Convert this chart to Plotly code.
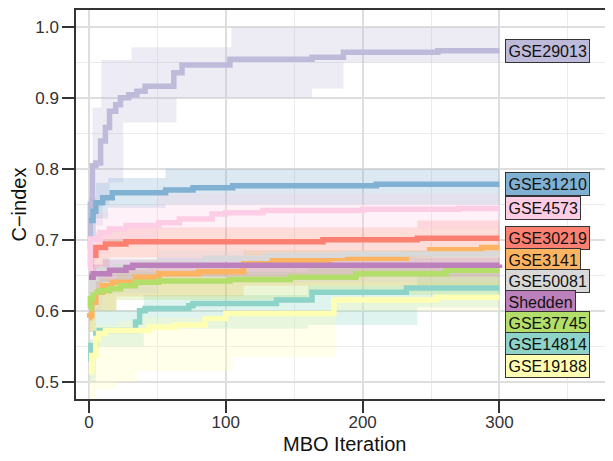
import plotly.graph_objects as go

# ---------------- data ----------------
names = ["GSE14814", "GSE19188", "GSE29013", "GSE30219", "GSE31210",
         "GSE3141", "GSE37745", "GSE4573", "GSE50081", "Shedden"]
colors = ["#8DD3C7", "#FFFFB3", "#BEBADA", "#FB8072", "#80B1D3",
          "#FDB462", "#B3DE69", "#FCCDE5", "#D9D9D9", "#BC80BD"]

# best C-index so far per MBO iteration (step breakpoints)
gse14814_x = [0, 1.4, 5, 7.5, 34, 37, 41, 73, 76, 137, 163, 232, 300]
gse14814_y = [0.528, 0.551, 0.568, 0.572, 0.584, 0.600, 0.603, 0.607, 0.610, 0.615, 0.626, 0.632, 0.632]
gse19188_x = [0, 2, 5, 7, 12, 44, 63, 85, 100, 179, 254, 300]
gse19188_y = [0.514, 0.537, 0.561, 0.568, 0.572, 0.577, 0.580, 0.589, 0.596, 0.615, 0.619, 0.619]
gse29013_x = [0, 1, 2.5, 5, 8.5, 12, 15, 19.5, 23, 29, 35, 41, 62, 68, 103, 163, 186, 255, 300]
gse29013_y = [0.685, 0.75, 0.804, 0.808, 0.839, 0.858, 0.881, 0.890, 0.900, 0.904, 0.909, 0.916,
              0.935, 0.946, 0.954, 0.957, 0.964, 0.966, 0.966]
gse30219_x = [0, 1.2, 5, 12, 27, 171, 240, 300]
gse30219_y = [0.665, 0.678, 0.689, 0.694, 0.697, 0.700, 0.702, 0.702]
gse31210_x = [0, 3, 5, 10, 17, 56, 76, 105, 210, 300]
gse31210_y = [0.727, 0.740, 0.752, 0.759, 0.766, 0.770, 0.773, 0.776, 0.778, 0.778]
gse3141_x = [0, 0.5, 2, 5, 10, 17, 34, 51, 80, 113, 176, 232, 249, 287, 300]
gse3141_y = [0.590, 0.593, 0.612, 0.626, 0.635, 0.640, 0.647, 0.652, 0.655, 0.671, 0.674, 0.680,
             0.686, 0.689, 0.689]
gse37745_x = [0, 1, 3, 8, 15, 23, 34, 51, 103, 147, 195, 261, 300]
gse37745_y = [0.603, 0.617, 0.626, 0.628, 0.631, 0.635, 0.640, 0.642, 0.644, 0.647, 0.652, 0.657, 0.657]
gse4573_x = [0, 1, 8, 15, 27, 51, 66, 90, 100, 127, 200, 270, 300]
gse4573_y = [0.659, 0.701, 0.710, 0.715, 0.720, 0.724, 0.729, 0.736, 0.738, 0.741, 0.743, 0.744, 0.744]
gse50081_x = [0, 2, 5, 10, 20, 40, 85, 130, 185, 300]
gse50081_y = [0.630, 0.645, 0.652, 0.658, 0.662, 0.667, 0.674, 0.678, 0.680, 0.680]
shedden_x = [0, 3, 15, 27, 32, 300]
shedden_y = [0.647, 0.652, 0.657, 0.661, 0.664, 0.665]

# uncertainty ribbons (step breakpoints, lower / upper)
gse14814_bx = [0, 5, 40, 160, 240, 300]
gse14814_lo = [0.50, 0.55, 0.575, 0.58, 0.605, 0.605]
gse14814_hi = [0.56, 0.60, 0.622, 0.635, 0.648, 0.648]
gse19188_bx = [0, 5, 20, 35, 105, 180, 300]
gse19188_lo = [0.47, 0.49, 0.50, 0.515, 0.535, 0.60, 0.605]
gse19188_hi = [0.54, 0.58, 0.585, 0.59, 0.60, 0.62, 0.625]
gse29013_bx = [0, 2.5, 5, 9, 10, 15, 25, 31, 64, 104, 163, 186, 300]
gse29013_lo = [0.68, 0.68, 0.72, 0.72, 0.75, 0.781, 0.865, 0.865, 0.90, 0.90, 0.913, 0.949, 0.949]
gse29013_hi = [0.75, 0.886, 0.886, 0.953, 0.953, 0.953, 0.953, 0.971, 0.971, 0.999, 0.999, 0.999, 0.999]
gse30219_bx = [0, 5, 15, 240, 300]
gse30219_lo = [0.64, 0.66, 0.675, 0.682, 0.685]
gse30219_hi = [0.69, 0.71, 0.717, 0.727, 0.727]
gse31210_bx = [0, 5, 14, 56, 300]
gse31210_lo = [0.70, 0.73, 0.745, 0.75, 0.755]
gse31210_hi = [0.76, 0.78, 0.787, 0.80, 0.80]
gse3141_bx = [0, 5, 20, 113, 300]
gse3141_lo = [0.57, 0.60, 0.62, 0.635, 0.645]
gse3141_hi = [0.62, 0.655, 0.665, 0.685, 0.695]
gse37745_bx = [0, 5, 20, 160, 300]
gse37745_lo = [0.57, 0.60, 0.615, 0.622, 0.63]
gse37745_hi = [0.63, 0.645, 0.655, 0.66, 0.665]
gse4573_bx = [0, 5, 15, 50, 300]
gse4573_lo = [0.64, 0.68, 0.70, 0.715, 0.722]
gse4573_hi = [0.70, 0.74, 0.748, 0.765, 0.769]
gse50081_bx = [0, 10, 50, 300]
gse50081_lo = [0.60, 0.625, 0.64, 0.65]
gse50081_hi = [0.66, 0.675, 0.685, 0.69]
shedden_bx = [0, 10, 50, 300]
shedden_lo = [0.625, 0.64, 0.648, 0.652]
shedden_hi = [0.665, 0.672, 0.675, 0.678]

x_ticks = [0, 100, 200, 300]
y_ticks = [0.5, 0.6, 0.7, 0.8, 0.9, 1.0]
y_tick_labels = ["0.5", "0.6", "0.7", "0.8", "0.9", "1.0"]

lines_x = [gse14814_x, gse19188_x, gse29013_x, gse30219_x, gse31210_x,
           gse3141_x, gse37745_x, gse4573_x, gse50081_x, shedden_x]
lines_y = [gse14814_y, gse19188_y, gse29013_y, gse30219_y, gse31210_y,
           gse3141_y, gse37745_y, gse4573_y, gse50081_y, shedden_y]
bands_x = [gse14814_bx, gse19188_bx, gse29013_bx, gse30219_bx, gse31210_bx,
           gse3141_bx, gse37745_bx, gse4573_bx, gse50081_bx, shedden_bx]
bands_lo = [gse14814_lo, gse19188_lo, gse29013_lo, gse30219_lo, gse31210_lo,
            gse3141_lo, gse37745_lo, gse4573_lo, gse50081_lo, shedden_lo]
bands_hi = [gse14814_hi, gse19188_hi, gse29013_hi, gse30219_hi, gse31210_hi,
            gse3141_hi, gse37745_hi, gse4573_hi, gse50081_hi, shedden_hi]


def rgba(hex_color, a):
    h = hex_color.lstrip("#")
    r, g, b = int(h[0:2], 16), int(h[2:4], 16), int(h[4:6], 16)
    return f"rgba({r},{g},{b},{a})"


FONT = "Liberation Sans, Arial, Helvetica, sans-serif"
fig = go.Figure()

# ribbons
for nm, c, bx, lo, hi in zip(names, colors, bands_x, bands_lo, bands_hi):
    fig.add_trace(go.Scatter(x=bx, y=lo, mode="lines", line=dict(width=0, shape="hv", color=c),
                             showlegend=False, hoverinfo="skip"))
    fig.add_trace(go.Scatter(x=bx, y=hi, mode="lines", line=dict(width=0, shape="hv", color=c),
                             fill="tonexty", fillcolor=rgba(c, 0.28),
                             showlegend=False, hoverinfo="skip"))

# lines
for nm, c, lx, ly in zip(names, colors, lines_x, lines_y):
    fig.add_trace(go.Scatter(x=lx, y=ly, mode="lines", name=nm,
                             line=dict(width=5.5, shape="hv", color=c),
                             showlegend=False))

# repelled end labels: sort by final value, push down to keep a minimum gap
finals = [(ly[-1], nm, c, lx[-1]) for nm, c, lx, ly in zip(names, colors, lines_x, lines_y)]
finals.sort(key=lambda t: -t[0])
gap = 0.0299
prev = None
for val, nm, c, xend in finals:
    ypos = val if prev is None else min(val, prev - gap)
    prev = ypos
    fig.add_annotation(x=xend, y=ypos, xref="x", yref="y", text=nm, showarrow=False,
                       xanchor="left", yanchor="middle", xshift=6,
                       font=dict(family=FONT, size=16, color="#111111"),
                       bgcolor=c, bordercolor="#333333", borderwidth=1, borderpad=2.5)

# axis titles
fig.add_annotation(x=0.5, y=-0.0, xref="paper", yref="paper", text="MBO Iteration",
                   showarrow=False, xanchor="center", yanchor="middle", yshift=-45,
                   font=dict(family=FONT, size=20, color="#111111"))
fig.add_annotation(x=0, y=0.5, xref="paper", yref="paper", text="C\u2212index",
                   showarrow=False, xanchor="center", yanchor="middle", xshift=-58,
                   textangle=-90, font=dict(family=FONT, size=20, color="#111111"))

# page body has an 8px margin, so the figure is laid out 8px smaller
fig.update_layout(
    width=605, height=453,
    margin=dict(l=68, r=0, t=2, b=62, autoexpand=False),
    paper_bgcolor="white", plot_bgcolor="white",
    font=dict(family=FONT, size=16, color="#333333"),
    showlegend=False,
)
fig.update_xaxes(
    range=[-9.5, 383], tickvals=x_ticks, ticktext=[str(v) for v in x_ticks],
    automargin=False,
    showline=True, linecolor="#333333", linewidth=1.5, mirror=True,
    ticks="outside", ticklen=12, tickwidth=1.5, tickcolor="#333333",
    ticklabelstandoff=-5,
    tickfont=dict(size=17, color="#333333"),
    showgrid=True, gridcolor="#dedede", gridwidth=1.5, zeroline=False,
    minor=dict(dtick=50, tick0=0, showgrid=True, gridcolor="#ebebeb", gridwidth=1),
)
fig.update_yaxes(
    range=[0.4757, 1.0234], tickvals=y_ticks, ticktext=y_tick_labels,
    automargin=False,
    showline=True, linecolor="#333333", linewidth=1.5, mirror=False,
    ticks="outside", ticklen=12, tickwidth=1.5, tickcolor="#333333",
    tickfont=dict(size=17, color="#333333"),
    showgrid=True, gridcolor="#dedede", gridwidth=1.5, zeroline=False,
    minor=dict(dtick=0.05, tick0=0.5, showgrid=True, gridcolor="#ebebeb", gridwidth=1),
)

fig.write_html("out.html")
